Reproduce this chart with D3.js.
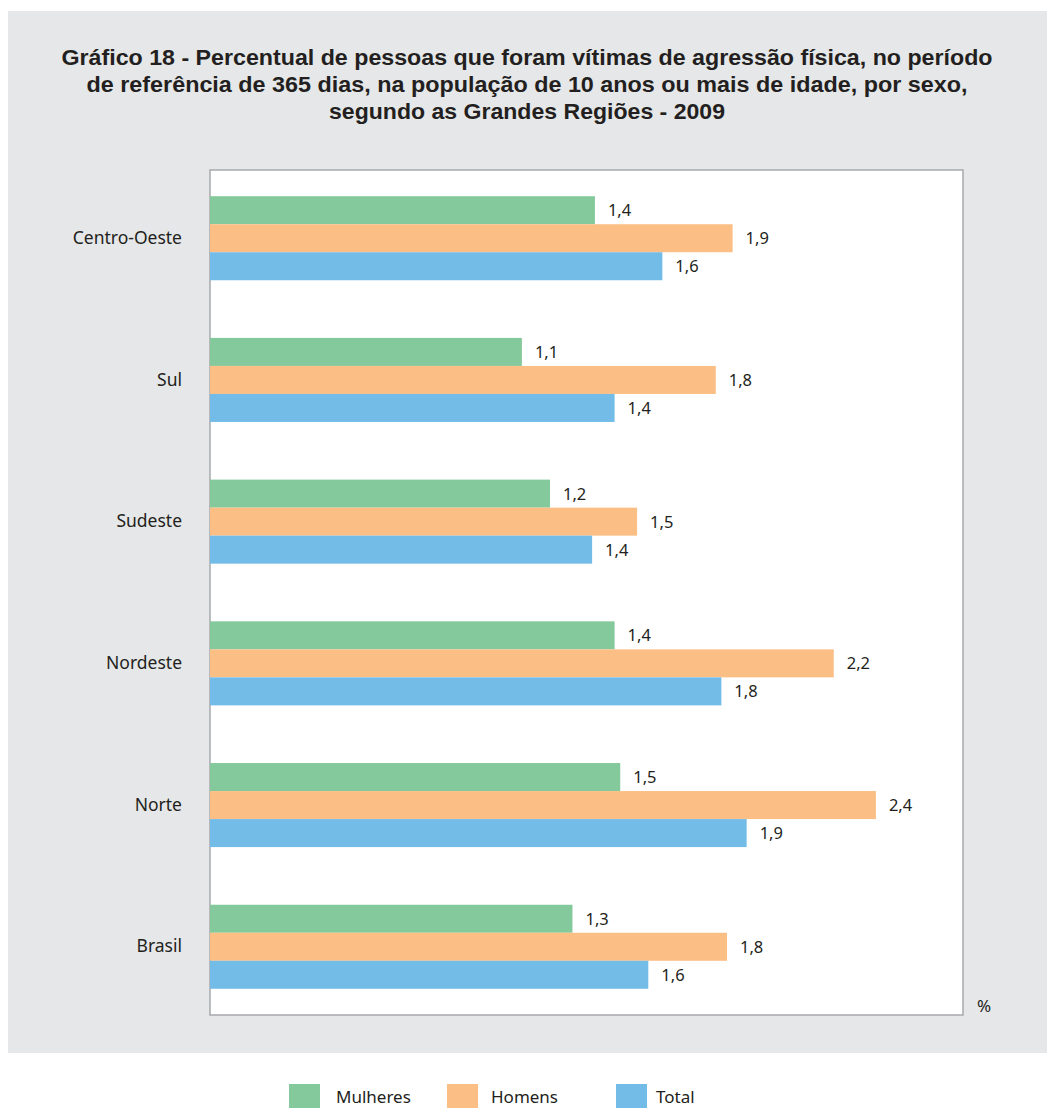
<!DOCTYPE html>
<html>
<head>
<meta charset="utf-8">
<script src="https://cdn.jsdelivr.net/npm/d3@7"></script>
<style>
  html, body { margin: 0; padding: 0; background: #ffffff; }
  svg { display: block; }
</style>
</head>
<body>
<svg id="chart" width="1047" height="1108"></svg>
<script>
const titleLines = [
  "Gráfico 18 - Percentual de pessoas que foram vítimas de agressão física, no período",
  "de referência de 365 dias, na população de 10 anos ou mais de idade, por sexo,",
  "segundo as Grandes Regiões - 2009"
];
const categories = ["Centro-Oeste", "Sul", "Sudeste", "Nordeste", "Norte", "Brasil"];
const seriesNames = ["Mulheres", "Homens", "Total"];
const mulheres = [1.37, 1.11, 1.21, 1.44, 1.46, 1.29];
const homens   = [1.86, 1.80, 1.52, 2.22, 2.37, 1.84];
const total    = [1.61, 1.44, 1.36, 1.82, 1.91, 1.56];
const unitLabel = "%";

const seriesValues = [mulheres, homens, total];
const colors = ["#83c99b", "#fbbe84", "#74bce8"];

const svg = d3.select("#chart");
const fontBody = "'Noto Sans', 'Open Sans', sans-serif";
const textColor = "#231f20";

// background panel
svg.append("rect").attr("x", 8).attr("y", 11).attr("width", 1039).attr("height", 1042)
  .attr("fill", "#e6e7e8");

// title
const titleWidths = [931, 881, 396];
svg.append("g").selectAll("text").data(titleLines).join("text")
  .attr("x", 527).attr("y", (d, i) => 65 + i * 27)
  .attr("text-anchor", "middle")
  .attr("font-family", "'Liberation Sans', Arial, Helvetica, sans-serif")
  .attr("font-weight", "bold").attr("font-size", 22).attr("fill", textColor)
  .attr("textLength", (d, i) => titleWidths[i])
  .attr("lengthAdjust", "spacingAndGlyphs")
  .text(d => d);

const plot = { left: 210, right: 963, top: 170, bottom: 1015 };

svg.append("rect")
  .attr("x", plot.left).attr("y", plot.top)
  .attr("width", plot.right - plot.left).attr("height", plot.bottom - plot.top)
  .attr("fill", "#ffffff").attr("stroke", "#a7a9ac").attr("stroke-width", 1.5);

const x = d3.scaleLinear().domain([0, 2.68]).range([plot.left, plot.right]);
const y = d3.scaleBand().domain(categories).range([plot.top, plot.bottom])
  .paddingInner(0.407).paddingOuter(0.185);
const ySub = d3.scaleBand().domain(seriesNames).range([0, y.bandwidth()]);

const fmt = v => d3.format(".1f")(v).replace(".", ",");

const rows = [];
categories.forEach((c, i) => {
  seriesNames.forEach((s, j) => {
    rows.push({ cat: c, series: s, value: seriesValues[j][i], color: colors[j] });
  });
});

const g = svg.append("g");
g.selectAll("rect.bar").data(rows).join("rect")
  .attr("class", "bar")
  .attr("x", x(0))
  .attr("y", d => y(d.cat) + ySub(d.series))
  .attr("width", d => x(d.value) - x(0))
  .attr("height", ySub.bandwidth())
  .attr("fill", d => d.color);

g.selectAll("text.val").data(rows).join("text")
  .attr("class", "val")
  .attr("x", d => x(d.value) + 13)
  .attr("y", d => y(d.cat) + ySub(d.series) + ySub.bandwidth() / 2)
  .attr("dy", "0.36em")
  .attr("font-family", fontBody).attr("font-size", 16.5).attr("fill", textColor)
  .text(d => fmt(d.value));

// category axis labels
const yAxis = d3.axisLeft(y).tickSize(0).tickPadding(28);
const ax = svg.append("g").attr("transform", `translate(${plot.left},0)`).call(yAxis);
ax.select(".domain").remove();
ax.selectAll("text")
  .attr("font-family", fontBody).attr("font-size", 17.5).attr("fill", textColor);

// unit
svg.append("text").attr("x", 977).attr("y", 1012)
  .attr("font-family", fontBody).attr("font-size", 17).attr("fill", textColor)
  .text(unitLabel);

// legend
const legendX = [289, 447, 616];
const leg = svg.append("g").selectAll("g").data(seriesNames).join("g")
  .attr("transform", (d, i) => `translate(${legendX[i]},1084)`);
leg.append("rect").attr("width", 31).attr("height", 24).attr("fill", (d, i) => colors[i]);
leg.append("text").attr("x", (d, i) => [47, 44, 40][i]).attr("y", 19)
  .attr("font-family", fontBody).attr("font-size", 17).attr("fill", textColor)
  .text(d => d);
</script>
</body>
</html>
